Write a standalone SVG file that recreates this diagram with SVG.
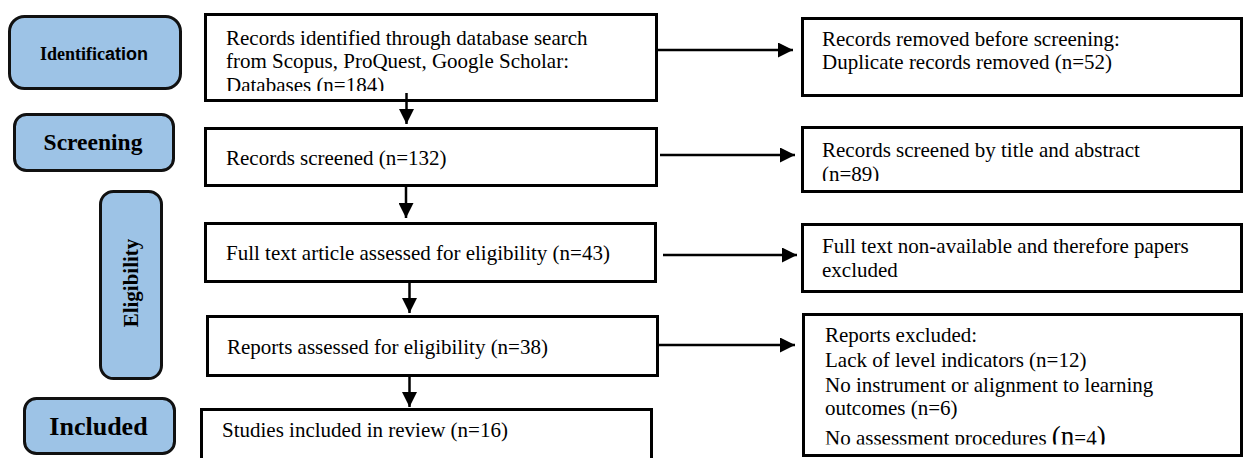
<svg xmlns="http://www.w3.org/2000/svg" width="1243" height="458" viewBox="0 0 1243 458">
<style>
.stage{fill:#9DC3E6;stroke:#111;stroke-width:3}
.box{fill:#fff;stroke:#000;stroke-width:3}
.t{font-family:"Liberation Serif","Times New Roman",serif;font-size:21px;fill:#000}
.lbl{font-family:"Liberation Serif","Times New Roman",serif;font-weight:bold;fill:#000;text-anchor:middle}
.conn{stroke:#000;stroke-width:2.5;fill:none;marker-end:url(#ah)}
</style>
<defs>
<marker id="ah" markerUnits="userSpaceOnUse" markerWidth="16" markerHeight="15" refX="15" refY="7.5" orient="auto">
<path d="M0,0 L15,7.5 L0,15 z" fill="#000"/>
</marker>
<clipPath id="c1"><rect x="205" y="15" width="450" height="76"/></clipPath>
<clipPath id="c2"><rect x="803" y="128" width="437" height="53"/></clipPath>
<clipPath id="c4"><rect x="804" y="315" width="436" height="129.5"/></clipPath>
</defs>
<rect width="1243" height="458" fill="#fff"/>

<g id="stage-identification">
<rect class="stage" x="9.5" y="16.5" width="171" height="72" rx="15"/>
<text class="lbl" x="94" y="59.5" font-size="18"><tspan>Identific</tspan><tspan font-family="Liberation Sans, Arial, sans-serif">ation</tspan></text>
</g>
<g id="stage-screening">
<rect class="stage" x="14.5" y="114.5" width="159" height="56" rx="12"/>
<text class="lbl" x="93" y="150" font-size="23.5">Screening</text>
</g>
<g id="stage-eligibility">
<rect class="stage" x="100.5" y="191.5" width="61" height="187" rx="13"/>
<text class="lbl" x="0" y="0" font-size="21" transform="translate(138,283) rotate(-90)">Eligibility</text>
</g>
<g id="stage-included">
<rect class="stage" x="24.5" y="398.5" width="150" height="55" rx="12"/>
<text class="lbl" x="98.5" y="435" font-size="26">Included</text>
</g>

<g id="box-identified">
<rect class="box" x="205.5" y="14.5" width="451" height="86"/>
<g clip-path="url(#c1)">
<text class="t" x="226" y="45">Records identified through database search</text>
<text class="t" x="226" y="68">from Scopus, ProQuest, Google Scholar:</text>
<text class="t" x="226" y="92">Databases (n=184)</text>
</g>
</g>
<g id="box-screened">
<rect class="box" x="205.5" y="128.5" width="451" height="57"/>
<text class="t" x="226" y="165">Records screened (n=132)</text>
</g>
<g id="box-fulltext">
<rect class="box" x="205.5" y="223.5" width="450" height="58"/>
<text class="t" x="226" y="260">Full text article assessed for eligibility (n=43)</text>
</g>
<g id="box-reports">
<rect class="box" x="207.5" y="316.5" width="450" height="59"/>
<text class="t" x="227" y="354">Reports assessed for eligibility (n=38)</text>
</g>
<g id="box-included">
<rect class="box" x="201.5" y="409.5" width="450" height="60"/>
<text class="t" x="222" y="437">Studies included in review (n=16)</text>
</g>

<g id="box-removed">
<rect class="box" x="802.5" y="18.5" width="439" height="77" stroke-width="2.5"/>
<text class="t" x="822" y="46">Records removed before screening:</text>
<text class="t" x="822" y="69">Duplicate records removed (n=52)</text>
</g>
<g id="box-title-abstract">
<rect class="box" x="802.5" y="127.5" width="439" height="64" stroke-width="2.5"/>
<g clip-path="url(#c2)">
<text class="t" x="822" y="157">Records screened by title and abstract</text>
<text class="t" x="822" y="181">(n=89)</text>
</g>
</g>
<g id="box-nonavailable">
<rect class="box" x="802.5" y="224.5" width="439" height="67" stroke-width="2.5"/>
<text class="t" x="822" y="253">Full text non-available and therefore papers</text>
<text class="t" x="822" y="277">excluded</text>
</g>
<g id="box-excluded">
<rect class="box" x="803.5" y="314.5" width="438" height="141" stroke-width="2.5"/>
<g clip-path="url(#c4)">
<text class="t" x="825" y="342">Reports excluded:</text>
<text class="t" x="825" y="367">Lack of level indicators (n=12)</text>
<text class="t" x="825" y="392">No instrument or alignment to learning</text>
<text class="t" x="825" y="415">outcomes (n=6)</text>
<text class="t" x="825" y="445">No assessment procedures <tspan font-size="27">(n</tspan>=4<tspan font-size="27">)</tspan></text>
</g>
</g>

<g id="connectors">
<line class="conn" x1="406.5" y1="93" x2="406.5" y2="124"/>
<line class="conn" x1="406" y1="187" x2="406" y2="218"/>
<line class="conn" x1="409.5" y1="283" x2="409.5" y2="313"/>
<line class="conn" x1="409.5" y1="377" x2="409.5" y2="407"/>
<line class="conn" x1="658" y1="50" x2="793" y2="50"/>
<line class="conn" x1="660" y1="155" x2="795" y2="155"/>
<line class="conn" x1="663" y1="255" x2="797" y2="255"/>
<line class="conn" x1="659" y1="345" x2="795" y2="345"/>
</g>
</svg>
